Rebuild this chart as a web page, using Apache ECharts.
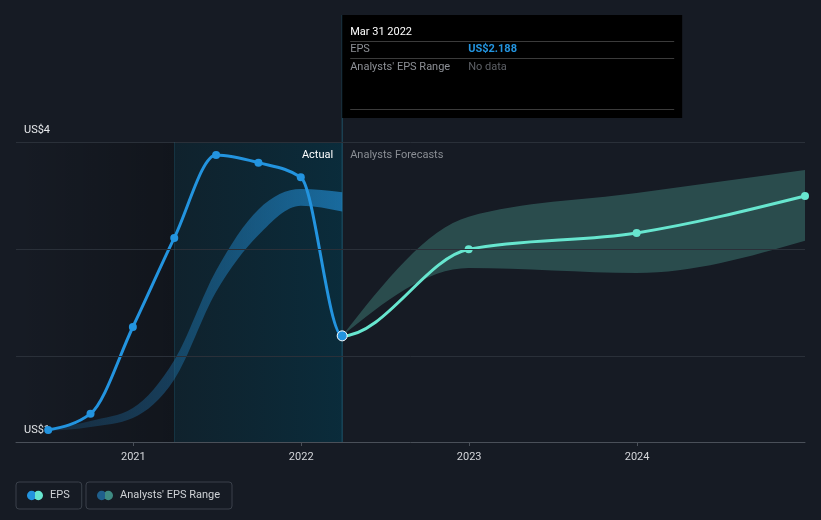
<!DOCTYPE html>
<html>
<head>
<meta charset="utf-8">
<script src="https://cdn.jsdelivr.net/npm/echarts@6/dist/echarts.min.js"></script>
<style>
html,body{margin:0;padding:0;background:#161b24;}
#chart{width:821px;height:520px;}
</style>
</head>
<body>
<div id="chart"></div>
<script>
// ---- data ----
const actualDates = ['2020-06-30','2020-09-30','2020-12-31','2021-03-31','2021-06-30','2021-09-30','2021-12-31','2022-03-31'];
const actualEps = [1.308, 1.461, 2.271, 3.103, 3.879, 3.807, 3.670, 2.188];
const pastRangeLow = [1.300, 1.336, 1.421, 1.780, 2.600, 3.130, 3.405, 3.350];
const pastRangeHigh = [1.312, 1.393, 1.514, 1.960, 2.800, 3.370, 3.560, 3.530];
const forecastDates = ['2022-03-31','2022-12-31','2023-12-31','2024-12-31'];
const forecastEps = [2.188, 2.997, 3.150, 3.495];
const forecastLow = [2.188, 2.822, 2.776, 3.078];
const forecastHigh = [2.188, 3.302, 3.523, 3.738];
const yearTicks = ['2021-01-01','2022-01-01','2023-01-01','2024-01-01'];
const yearLabels = ['2021','2022','2023','2024'];
const gridValues = [2, 3, 4];
const yLabelValues = [4, 1.196];
const yLabelTexts = ['US$4', 'US$1'];
const xMin = '2020-04-21';
const xMax = '2024-12-31';
const yMin = 1.196;
const yMax = 4;
const actualStart = '2021-03-31';
const forecastStart = '2022-03-31';
const tooltipTitle = 'Mar 31 2022';
const tooltipEps = 'US$2.188';

const BLUE = '#2394df';
const MINT = '#67e6cf';
const ts = d => new Date(d + 'T00:00:00Z').getTime();
const yearTickTs = yearTicks.map(ts);

// monotone-x cubic (same construction as d3.curveMonotoneX), computed in pixel space
function sgn(x) { return x < 0 ? -1 : 1; }
function monoSegments(P) {
  const n = P.length, t = new Array(n);
  if (n < 2) return [];
  if (n === 2) {
    const s = (P[1][1] - P[0][1]) / (P[1][0] - P[0][0]); t[0] = s; t[1] = s;
  } else {
    for (let i = 1; i < n - 1; i++) {
      const h0 = P[i][0] - P[i - 1][0], h1 = P[i + 1][0] - P[i][0];
      const s0 = (P[i][1] - P[i - 1][1]) / h0, s1 = (P[i + 1][1] - P[i][1]) / h1;
      const p = (s0 * h1 + s1 * h0) / (h0 + h1);
      t[i] = (sgn(s0) + sgn(s1)) * Math.min(Math.abs(s0), Math.abs(s1), 0.5 * Math.abs(p)) || 0;
    }
    t[0] = (3 * (P[1][1] - P[0][1]) / (P[1][0] - P[0][0]) - t[1]) / 2;
    t[n - 1] = (3 * (P[n - 1][1] - P[n - 2][1]) / (P[n - 1][0] - P[n - 2][0]) - t[n - 2]) / 2;
  }
  const segs = [];
  for (let i = 0; i < n - 1; i++) {
    const dx = (P[i + 1][0] - P[i][0]) / 3;
    segs.push([P[i], [P[i][0] + dx, P[i][1] + dx * t[i]], [P[i + 1][0] - dx, P[i + 1][1] - dx * t[i + 1]], P[i + 1]]);
  }
  return segs;
}
function segPath(segs, from, to) {
  let d = 'M' + segs[from][0][0] + ',' + segs[from][0][1];
  for (let i = from; i < to; i++) {
    const s = segs[i];
    d += 'C' + s[1][0] + ',' + s[1][1] + ',' + s[2][0] + ',' + s[2][1] + ',' + s[3][0] + ',' + s[3][1];
  }
  return d;
}
function bandPath(upSegs, lowSegs) {
  let d = segPath(upSegs, 0, upSegs.length);
  const last = lowSegs[lowSegs.length - 1][3];
  d += 'L' + last[0] + ',' + last[1];
  for (let i = lowSegs.length - 1; i >= 0; i--) {
    const s = lowSegs[i];
    d += 'C' + s[2][0] + ',' + s[2][1] + ',' + s[1][0] + ',' + s[1][1] + ',' + s[0][0] + ',' + s[0][1];
  }
  return d + 'Z';
}

const chart = echarts.init(document.getElementById('chart'), null, {renderer: 'canvas'});

const actualData = actualDates.map((d, i) => {
  const item = {value: [ts(d), actualEps[i]]};
  if (i === actualDates.length - 1) {
    item.symbolSize = 10;
    item.itemStyle = {borderColor: '#ffffff', borderWidth: 1};
  }
  return item;
});
const forecastData = forecastDates.map((d, i) => [ts(d), forecastEps[i]]);
// one continuous EPS curve: actual then forecast (shared point not repeated)
const epsCurveData = actualDates.map((d, i) => [ts(d), actualEps[i]])
  .concat(forecastDates.slice(1).map((d, i) => [ts(d), forecastEps[i + 1]]));
const pastBandData = actualDates.map((d, i) => [ts(d), pastRangeLow[i], pastRangeHigh[i]]);
const fcBandData = forecastDates.map((d, i) => [ts(d), forecastLow[i], forecastHigh[i]]);

function renderBand(fill) {
  return function (params, api) {
    if (params.dataIndexInside !== 0) return null;
    const up = [], low = [];
    for (let j = 0; j < params.dataInsideLength; j++) {
      const x = api.value(0, j);
      up.push(api.coord([x, api.value(2, j)]));
      low.push(api.coord([x, api.value(1, j)]));
    }
    return {type: 'path', shape: {pathData: bandPath(monoSegments(up), monoSegments(low))},
      style: {fill: fill, stroke: null}};
  };
}
function renderEpsCurve(params, api) {
  if (params.dataIndexInside !== 0) return null;
  const pts = [];
  for (let j = 0; j < params.dataInsideLength; j++) pts.push(api.coord([api.value(0, j), api.value(1, j)]));
  const segs = monoSegments(pts);
  const split = actualDates.length - 1;
  return {type: 'group', children: [
    {type: 'path', shape: {pathData: segPath(segs, 0, split)}, style: {fill: null, stroke: BLUE, lineWidth: 3, lineJoin: 'round'}},
    {type: 'path', shape: {pathData: segPath(segs, split, segs.length)}, style: {fill: null, stroke: MINT, lineWidth: 3, lineJoin: 'round'}}
  ]};
}

const legendIcon = 'path://M5,0A5,5,0,1,1,5,10A5,5,0,1,1,5,0ZM12,0A5,5,0,1,1,12,10A5,5,0,1,1,12,0Z';
function split2(c1, c2) {
  return {type: 'linear', x: 0, y: 0, x2: 1, y2: 0, colorStops: [
    {offset: 0, color: c1}, {offset: 0.47, color: c1}, {offset: 0.47, color: c2}, {offset: 1, color: c2}]};
}
const legendCommon = {
  top: 482, orient: 'horizontal', icon: legendIcon, itemWidth: 16, itemHeight: 10,
  padding: [8, 12, 8, 11], borderColor: '#3a404a', borderWidth: 1, borderRadius: 3,
  textStyle: {color: '#cfd2d6', fontSize: 11, fontFamily: 'Roboto', padding: [0, 0, 0, 2]}, selectedMode: false
};

const option = {
  backgroundColor: '#161b24',
  animation: false,
  textStyle: {fontFamily: 'Roboto'},
  grid: {left: 16, right: 16, top: 142, bottom: 78},
  legend: [
    Object.assign({}, legendCommon, {left: 16, data: [{name: 'EPS', itemStyle: {color: split2(BLUE, MINT)}}]}),
    Object.assign({}, legendCommon, {left: 86, data: [{name: "Analysts' EPS Range", itemStyle: {color: split2('#1f5f8c', '#3e8a82')}}]})
  ],
  xAxis: {
    type: 'value', min: ts(xMin), max: ts(xMax), scale: true,
    axisLine: {show: true, lineStyle: {color: '#4a5059', width: 1}},
    axisTick: {show: true, length: 4, lineStyle: {color: '#4a5059'}, customValues: yearTickTs},
    axisLabel: {color: '#d4d6da', fontSize: 11, margin: 10, customValues: yearTickTs,
      formatter: v => { const k = yearTickTs.indexOf(v); return k >= 0 ? yearLabels[k] : ''; }},
    splitLine: {show: false}
  },
  yAxis: {
    type: 'value', min: yMin, max: yMax,
    axisLine: {show: false}, axisTick: {show: false}, axisLabel: {show: false}, splitLine: {show: false}
  },
  series: [
    {
      name: 'bg', type: 'line', data: [], silent: true,
      markArea: {
        silent: true,
        data: [
          [{xAxis: ts(xMin), itemStyle: {color: {type: 'linear', x: 0, y: 0, x2: 1, y2: 0, colorStops: [
              {offset: 0, color: 'rgba(0,0,0,0)'}, {offset: 1, color: 'rgba(0,0,0,0.22)'}]}}}, {xAxis: ts(actualStart)}],
          [{xAxis: ts(actualStart), itemStyle: {color: {type: 'linear', x: 0, y: 0, x2: 1, y2: 0, colorStops: [
              {offset: 0, color: 'rgba(9,41,54,0.5)'}, {offset: 1, color: 'rgba(3,54,73,0.62)'}]}}}, {xAxis: ts(forecastStart)}]
        ]
      },
      markLine: {
        silent: true, symbol: 'none', label: {show: false},
        data: gridValues.map(v => ({yAxis: v, lineStyle: {color: '#2a3039', width: 1, type: 'solid'}}))
          .concat([{xAxis: ts(actualStart), lineStyle: {color: 'rgba(35,110,140,0.25)', width: 1, type: 'solid'}}])
      }
    },
    {name: "Analysts' EPS Range", type: 'custom', data: pastBandData, z: 2, silent: true,
      encode: {x: 0, y: [1, 2]},
      renderItem: renderBand(new echarts.graphic.LinearGradient(0, 0, 1, 0, [
        {offset: 0, color: 'rgba(35,148,223,0.15)'}, {offset: 0.5, color: 'rgba(35,148,223,0.35)'}, {offset: 1, color: 'rgba(35,148,223,0.6)'}]))},
    {name: "Analysts' EPS Range", type: 'custom', data: fcBandData, z: 2, silent: true,
      encode: {x: 0, y: [1, 2]},
      renderItem: renderBand('rgba(72,150,140,0.4)')},
    {name: 'EPS', type: 'custom', data: epsCurveData, z: 3, silent: true,
      encode: {x: 0, y: 1}, renderItem: renderEpsCurve},
    {name: 'EPS', type: 'line', data: forecastData, z: 4,
      symbol: 'circle', symbolSize: 8, showAllSymbol: true, color: MINT,
      lineStyle: {opacity: 0, width: 0}, itemStyle: {color: MINT}},
    {name: 'EPS', type: 'line', data: actualData, z: 5,
      symbol: 'circle', symbolSize: 8, showAllSymbol: true, color: BLUE,
      lineStyle: {opacity: 0, width: 0}, itemStyle: {color: BLUE}}
  ]
};
chart.setOption(option);

// overlay annotations positioned through the chart's own scales
const fx = chart.convertToPixel({xAxisIndex: 0}, ts(forecastStart));
const gridBottomY = chart.convertToPixel({yAxisIndex: 0}, yMin);
const gridTopY = chart.convertToPixel({yAxisIndex: 0}, yMax);
const textFont = 'Roboto';
const graphics = [];
yLabelValues.forEach((v, i) => {
  const py = chart.convertToPixel({yAxisIndex: 0}, v);
  graphics.push({type: 'text', x: 24, y: py - 12, z: -1, silent: true,
    style: {text: yLabelTexts[i], fill: '#e6e8eb', font: '11px ' + textFont, verticalAlign: 'middle'}});
});
graphics.push({type: 'line', z: 1, silent: true, shape: {x1: fx, y1: 15, x2: fx, y2: gridBottomY},
  style: {stroke: 'rgba(35,120,150,0.6)', lineWidth: 1}});
graphics.push({type: 'text', z: 5, silent: true, x: fx - 9, y: gridTopY + 13,
  style: {text: 'Actual', fill: '#ffffff', font: '11px ' + textFont, align: 'right', verticalAlign: 'middle'}});
graphics.push({type: 'text', z: 5, silent: true, x: fx + 8, y: gridTopY + 13,
  style: {text: 'Analysts Forecasts', fill: '#8a8e94', font: '11px ' + textFont, align: 'left', verticalAlign: 'middle'}});
// tooltip-like box
const bx = fx, by = 15, bw = 340, bh = 103;
graphics.push({type: 'rect', z: 10, silent: true, shape: {x: bx, y: by, width: bw, height: bh}, style: {fill: '#000000'}});
graphics.push({type: 'text', z: 11, silent: true, x: bx + 8, y: by + 17,
  style: {text: tooltipTitle, fill: '#ffffff', font: '11px ' + textFont, verticalAlign: 'middle'}});
[26, 43, 94].forEach(dy => graphics.push({type: 'line', z: 11, silent: true,
  shape: {x1: bx + 8, y1: by + dy + 0.5, x2: bx + bw - 8, y2: by + dy + 0.5}, style: {stroke: '#3b3b3b', lineWidth: 1}}));
graphics.push({type: 'text', z: 11, silent: true, x: bx + 8, y: by + 34,
  style: {text: 'EPS', fill: '#8d9096', font: '11px ' + textFont, verticalAlign: 'middle'}});
graphics.push({type: 'text', z: 11, silent: true, x: bx + 126, y: by + 34,
  style: {text: tooltipEps, fill: BLUE, font: 'bold 11px ' + textFont, verticalAlign: 'middle'}});
graphics.push({type: 'text', z: 11, silent: true, x: bx + 8, y: by + 52,
  style: {text: "Analysts' EPS Range", fill: '#8d9096', font: '11px ' + textFont, verticalAlign: 'middle'}});
graphics.push({type: 'text', z: 11, silent: true, x: bx + 126, y: by + 52,
  style: {text: 'No data', fill: '#5d6066', font: '11px ' + textFont, verticalAlign: 'middle'}});
chart.setOption({graphic: graphics});
</script>
</body>
</html>
